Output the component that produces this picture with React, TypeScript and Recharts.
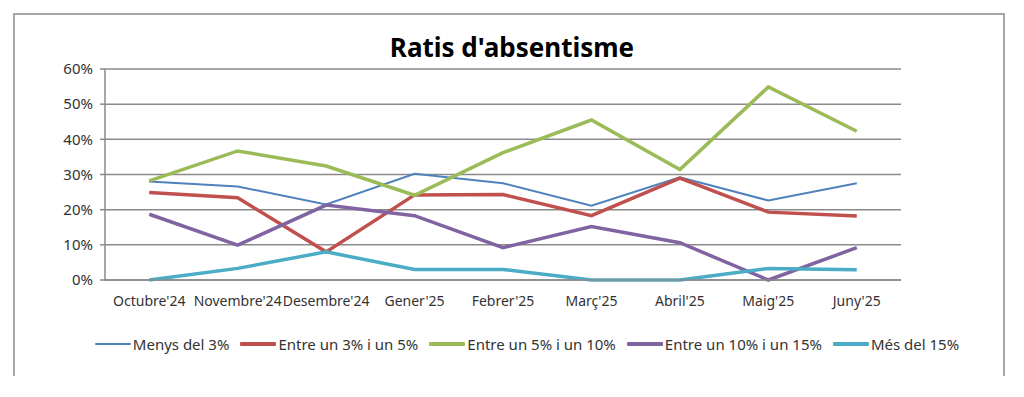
import React from 'react';
import { LineChart, Line, XAxis, YAxis, CartesianGrid, Legend } from 'recharts';

const categories = ["Octubre'24", "Novembre'24", "Desembre'24", "Gener'25", "Febrer'25", "Març'25", "Abril'25", "Maig'25", "Juny'25"];
const menys3 = [0.28, 0.266, 0.215, 0.302, 0.275, 0.211, 0.292, 0.226, 0.275];
const entre3i5 = [0.249, 0.234, 0.08, 0.242, 0.243, 0.183, 0.29, 0.193, 0.182];
const entre5i10 = [0.282, 0.367, 0.324, 0.241, 0.362, 0.455, 0.314, 0.549, 0.423];
const entre10i15 = [0.187, 0.099, 0.213, 0.183, 0.092, 0.152, 0.106, 0.0, 0.092];
const mes15 = [0.0, 0.033, 0.08, 0.03, 0.03, 0.0, 0.0, 0.033, 0.029];
const yTicks = [0, 0.1, 0.2, 0.3, 0.4, 0.5, 0.6];

const series = [
  { key: 'menys3', name: 'Menys del 3%', values: menys3, color: '#4F81BD', width: 2 },
  { key: 'entre3i5', name: 'Entre un 3% i un 5%', values: entre3i5, color: '#C0504D', width: 3.5 },
  { key: 'entre5i10', name: 'Entre un 5% i un 10%', values: entre5i10, color: '#9BBB59', width: 3.5 },
  { key: 'entre10i15', name: 'Entre un 10% i un 15%', values: entre10i15, color: '#8064A2', width: 3.5 },
  { key: 'mes15', name: 'Més del 15%', values: mes15, color: '#4BACC6', width: 3.5 },
];

const data = categories.map((c, i) => {
  const row: Record<string, number | string> = { x: i + 0.5, name: c };
  series.forEach((s) => { row[s.key] = s.values[i]; });
  return row;
});

const boundaryTicks = categories.map((_, i) => i).concat([categories.length]);
const centerTicks = categories.map((_, i) => i + 0.5);

const FONT = '"Noto Sans", "Open Sans", sans-serif';

const LegendContent = () => (
  <div style={{ display: 'flex', justifyContent: 'center', alignItems: 'center', fontFamily: FONT, fontSize: 15, color: '#333', gap: 11, marginLeft: 30 }}>
    {series.map((s) => (
      <div key={s.key} style={{ display: 'flex', alignItems: 'center' }}>
        <span style={{ display: 'inline-block', width: 36, height: s.width, background: s.color, marginRight: 2, borderRadius: 1 }} />
        <span>{s.name}</span>
      </div>
    ))}
  </div>
);

export default function App() {
  return (
    <div style={{ position: 'absolute', left: 0, top: 0, width: 1024, height: 397, background: '#fff' }}>
      <div style={{ position: 'absolute', left: 13, top: 13, width: 988, height: 361, borderTop: '2px solid #a6a6a6', borderLeft: '2px solid #a6a6a6', borderRight: '2px solid #a6a6a6' }} />
      <div style={{ position: 'absolute', left: 0, top: 29, width: 1024, textAlign: 'center', fontFamily: FONT, fontWeight: 700, fontSize: 26, color: '#000' }}>
        Ratis d'absentisme
      </div>
      <div style={{ position: 'absolute', left: 0, top: 0 }}>
        <LineChart width={1024} height={397} data={data} margin={{ top: 69, right: 123, left: 45, bottom: 79 }}>
          <CartesianGrid vertical={false} stroke="#8a8a8a" strokeWidth={1.5} />
          <XAxis dataKey="x" type="number" domain={[0, categories.length]} ticks={boundaryTicks} tick={false} tickSize={5} height={8} stroke="#8a8a8a" strokeWidth={1.5} />
          <XAxis xAxisId="lbl" dataKey="x" type="number" domain={[0, categories.length]} ticks={centerTicks} axisLine={false} tickLine={false} tickSize={4} tickMargin={4} height={30} interval={0}
            tickFormatter={(v: number) => categories[Math.round(v - 0.5)]}
            tick={{ fontFamily: FONT, fontSize: 14, fill: '#333' }} />
          <YAxis type="number" domain={[0, 0.6]} ticks={yTicks} width={60} tickSize={5} tickMargin={7} stroke="#8a8a8a" strokeWidth={1.5}
            tickFormatter={(v: number) => `${Math.round(v * 100)}%`}
            tick={{ fontFamily: FONT, fontSize: 15, fill: '#333' }} />
          {series.map((s) => (
            <Line key={s.key} dataKey={s.key} name={s.name} stroke={s.color} strokeWidth={s.width} dot={false} activeDot={false} type="linear" isAnimationActive={false} />
          ))}
          <Legend verticalAlign="middle" align="center" layout="horizontal" content={<LegendContent />} wrapperStyle={{ top: 334, left: 0, width: 1024 }} />
        </LineChart>
      </div>
    </div>
  );
}
